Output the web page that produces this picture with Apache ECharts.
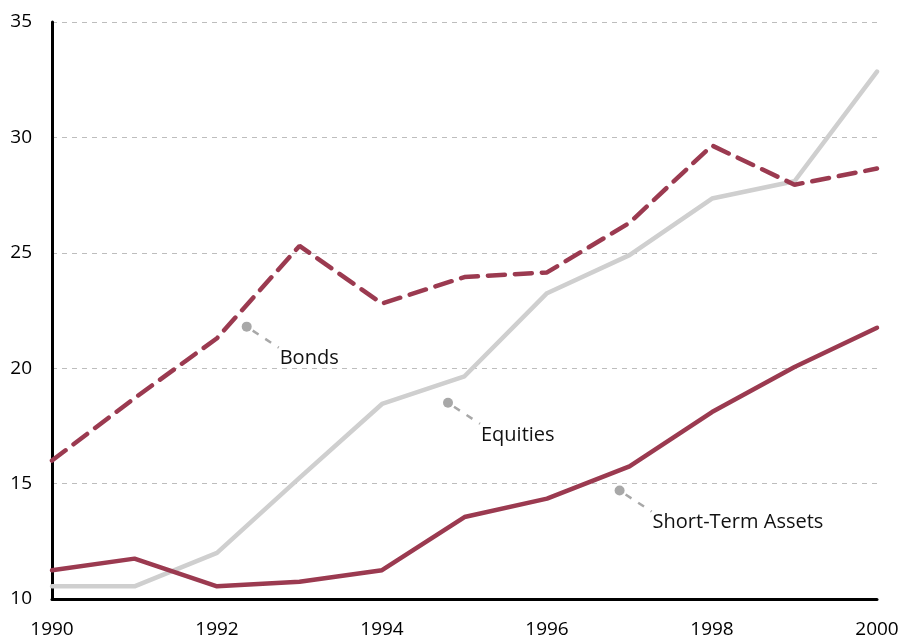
<!DOCTYPE html>
<html>
<head>
<meta charset="utf-8">
<script src="https://cdn.jsdelivr.net/npm/echarts@6/dist/echarts.min.js"></script>
<style>
  html, body { margin: 0; padding: 0; background: #fff; }
  #chart { width: 902px; height: 639px; }
</style>
</head>
<body>
<div id="chart"></div>
<script>
// years on the x axis
const years = [1990, 1991, 1992, 1993, 1994, 1995, 1996, 1997, 1998, 1999, 2000]
// values
const bonds = [16.0, 18.7, 21.3, 25.3, 22.8, 23.95, 24.15, 26.3, 29.65, 27.95, 28.65]
const equities = [10.55, 10.55, 12.0, 15.25, 18.45, 19.65, 23.25, 24.9, 27.35, 28.1, 32.85]
const shortTerm = [11.25, 11.75, 10.55, 10.75, 11.25, 13.55, 14.35, 15.75, 18.1, 20.05, 21.75]

// callout labels: name, point on the chart (year, value)
const callouts = [
    { name: 'Bonds', at: [1992.36, 21.8] },
    { name: 'Equities', at: [1994.8, 18.5] },
    { name: 'Short-Term Assets', at: [1996.88, 14.7] }
]

const maroon = '#9b3a50'
const light = '#cfcfcf'
const font = '"Open Sans", "Noto Sans", sans-serif'

const pairs = arr => years.map((y, i) => [y, arr[i]])

const chart = echarts.init(document.getElementById('chart'))

chart.setOption({
    animation: false,
    grid: { left: 52, right: 25, top: 22, bottom: 40 },
    xAxis: {
        type: 'value',
        min: 1990, max: 2000, interval: 2,
        axisLine: { show: true, lineStyle: { color: '#000', width: 3 } },
        axisTick: { show: false },
        splitLine: { show: false },
        axisLabel: {
            color: '#000', fontSize: 19, fontFamily: font, margin: 21,
            formatter: v => String(v)
        }
    },
    yAxis: {
        type: 'value',
        min: 10, max: 35, interval: 5,
        axisLine: { show: true, onZero: false, lineStyle: { color: '#000', width: 3 } },
        axisTick: { show: false },
        splitLine: { show: true, lineStyle: { color: '#bdbdbd', type: [5, 5], width: 1 } },
        axisLabel: { color: '#000', fontSize: 19, fontFamily: font, margin: 20 }
    },
    series: [
        {
            name: 'Equities', type: 'line', data: pairs(equities),
            symbol: 'none', z: 2,
            lineStyle: { color: light, width: 4.5, cap: 'round' }
        },
        {
            name: 'Short-Term Assets', type: 'line', data: pairs(shortTerm),
            symbol: 'none', z: 3,
            lineStyle: { color: maroon, width: 4.5, cap: 'round' }
        },
        {
            name: 'Bonds', type: 'line', data: pairs(bonds),
            symbol: 'none', z: 3,
            lineStyle: { color: maroon, width: 4.5, type: [17, 10], cap: 'round' }
        }
    ]
})

// callouts: dot, dashed leader, text, placed from data coordinates
const graphics = []
callouts.forEach(c => {
    const p = chart.convertToPixel({ gridIndex: 0 }, c.at)
    graphics.push({
        type: 'circle', shape: { cx: p[0], cy: p[1], r: 5 },
        style: { fill: '#a8a8a8' }, z: 10
    })
    graphics.push({
        type: 'line', shape: { x1: p[0] + 6, y1: p[1] + 4, x2: p[0] + 32, y2: p[1] + 21 },
        style: { stroke: '#a8a8a8', lineWidth: 2.5, lineDash: [7, 8] }, z: 10
    })
    graphics.push({
        type: 'text', x: p[0] + 33, y: p[1] + 32,
        style: { text: c.name, fill: '#111', fontSize: 20, fontFamily: font, verticalAlign: 'middle' },
        z: 10
    })
})
chart.setOption({ graphic: graphics })
</script>
</body>
</html>
